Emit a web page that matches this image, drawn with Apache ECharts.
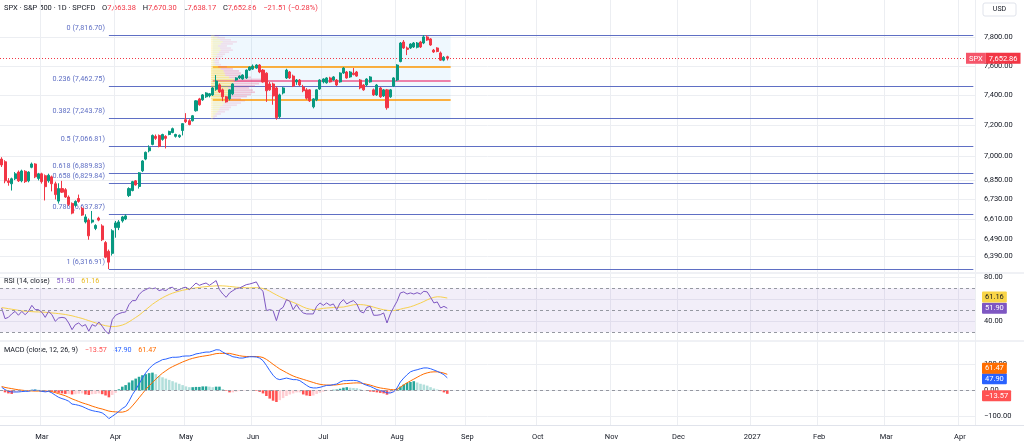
<!DOCTYPE html>
<html><head><meta charset="utf-8">
<script src="https://cdn.jsdelivr.net/npm/echarts@6/dist/echarts.min.js"></script>
<style>html,body{margin:0;padding:0;background:#fff}#c{width:1024px;height:446px}</style>
</head><body><div id="c"></div>
<script>
// ---------- DATA ----------
const firstDay = '2026-02-11';
const barCount = 291;
const holidays = ['2026-02-16','2026-04-03','2026-05-25','2026-06-19','2026-07-03','2026-09-07','2026-11-26','2026-12-25','2027-01-01','2027-03-26'];

// [open, high, low, close]
const ohlc = [
[6982,6994,6932,6945],[6965,6975,6830,6845],[6845,6862,6815,6835],[6827,6865,6785,6858],[6858,6900,6850,6889],
[6900,6910,6838,6845],[6845,6915,6836,6907],[6905,6912,6832,6840],[6845,6905,6836,6900],[6930,6960,6924,6951],
[6951,6956,6862,6870],[6860,6895,6848,6889],[6889,6896,6828,6840],[6877,6885,6724,6809],[6845,6890,6834,6880],
[6870,6878,6780,6827],[6827,6840,6730,6760],[6720,6830,6705,6797],[6797,6845,6770,6775],[6790,6800,6740,6745],
[6745,6755,6690,6700],[6706,6712,6640,6647],[6694,6725,6685,6718],[6736,6760,6710,6718],[6676,6685,6630,6635],
[6594,6640,6585,6624],[6605,6615,6488,6511],[6593,6660,6585,6605],[6555,6580,6545,6573],[6617,6625,6598,6605],
[6570,6580,6480,6488],[6471,6480,6380,6386],[6420,6430,6316.91,6357],[6408,6550,6395,6541],[6560,6600,6500,6588],
[6560,6605,6545,6594],[6600,6630,6590,6624],[6612,6640,6605,6630],[6754,6805,6745,6797],[6785,6845,6780,6840],
[6845,6850,6815,6820],[6810,6900,6797,6895],[6908,6975,6900,6970],[6982,7030,6975,7025],[7035,7070,7025,7055],
[7076,7140,7070,7134],[7128,7140,7105,7115],[7134,7140,7057,7063],[7108,7145,7100,7140],[7128,7135,7050,7115],
[7140,7165,7135,7160],[7153,7185,7148,7178],[7128,7145,7120,7140],[7125,7140,7118,7135],[7166,7215,7134,7211],
[7237,7280,7215,7224],[7230,7240,7200,7205],[7230,7268,7225,7263],[7296,7366,7290,7362],[7375,7382,7330,7336],
[7369,7408,7362,7402],[7389,7420,7382,7415],[7395,7415,7385,7410],[7402,7455,7395,7449],[7440,7537,7430,7496],
[7470,7480,7415,7422],[7436,7445,7360,7389],[7389,7395,7350,7355],[7376,7440,7365,7436],[7409,7480,7400,7476],
[7503,7522,7498,7517],[7517,7535,7510,7530],[7510,7542,7505,7537],[7517,7575,7510,7571],[7571,7596,7565,7592],
[7578,7610,7572,7599],[7585,7612,7580,7606],[7606,7612,7550,7558],[7571,7578,7485,7490],[7550,7556,7355,7430],
[7476,7490,7430,7436],[7476,7485,7336,7395],[7449,7460,7237,7250],[7256,7410,7245,7402],[7415,7455,7405,7449],
[7517,7580,7510,7571],[7558,7565,7510,7517],[7530,7540,7455,7462],[7490,7510,7470,7503],[7503,7510,7460,7469],
[7455,7470,7420,7430],[7436,7448,7370,7380],[7436,7440,7355,7362],[7322,7380,7312,7375],[7369,7440,7360,7436],
[7442,7508,7436,7503],[7490,7515,7480,7510],[7484,7522,7478,7517],[7517,7525,7485,7490],[7503,7530,7498,7524],
[7503,7510,7462,7469],[7490,7556,7484,7551],[7551,7592,7545,7585],[7558,7565,7512,7517],[7524,7565,7518,7558],
[7550,7585,7535,7540],[7558,7565,7525,7530],[7503,7510,7440,7449],[7469,7476,7430,7436],[7469,7515,7462,7510],
[7490,7530,7484,7524],[7436,7445,7395,7402],[7402,7476,7395,7469],[7449,7456,7382,7389],[7395,7442,7388,7436],
[7436,7442,7303,7316],[7389,7442,7382,7436],[7462,7522,7455,7517],[7503,7612,7496,7606],[7630,7767,7625,7760],
[7767,7781,7718,7725],[7725,7735,7675,7715],[7725,7758,7718,7753],[7732,7767,7725,7760],[7730,7767,7722,7760],
[7767,7775,7725,7732],[7760,7816.70,7752,7803],[7803,7815,7775,7781],[7789,7795,7740,7746],[7710,7718,7690,7697],
[7725,7730,7695,7700],[7690,7700,7635,7640],[7640,7668,7632,7660],[7663.38,7670.30,7638.17,7652.86]
];

const rsi = [
52,42.4,43.6,46.7,49,45.5,49,46,49,54.5,
50.6,50.6,48.2,43.6,49,46,40,43,43.6,43,
38.5,32.4,37,38.5,35.5,37,31,37,35.5,39.4,
35.5,31,28.5,41.5,45.5,47,48,48.5,55.2,58.8,
58.8,64.2,67.3,68.8,70.3,69.7,70.3,67.9,68.8,67.9,
70.3,71,67.9,68.8,70.3,71,68.8,71.8,74.8,72.7,
73.9,74.8,72.7,74.8,77,68.8,64.8,61.8,65.8,67.9,
69.7,70.3,71.8,73.3,73.9,74.8,75.8,70.3,67.3,49.7,
50.6,49.7,40.6,50.6,52.7,59.7,58.2,50.6,55.2,50.6,
47.6,46.7,46.7,46.7,53.6,56.7,54.5,56.7,54.5,55.8,
50.6,56.7,59.7,55.8,57.6,58.8,55.8,49,47.6,52.7,
53.6,45.5,45.5,46,47.6,38.5,46.7,52.7,58.2,65.8,
66.7,64.8,65.8,64.8,66,64.8,67.3,66.7,61.8,56.7,
57.6,52.1,53.6,51.90
];
const rsiMa = [
52.5,52,51.5,51,50.5,50,49.5,49.2,49,48.8,
48.6,48.5,48.4,48.2,47.9,47.6,47.3,47,46.6,46.2,
45.6,45,44.2,43.4,42.6,41.6,40.6,39.6,38.6,37.6,
36.8,36,35.5,35.2,35.3,35.8,36.6,37.8,39.5,41.5,
43.5,45.5,48,50.5,53,55.5,57.6,59.6,61.4,63,
64.4,65.6,66.6,67.4,68.2,68.8,69.4,69.9,70.4,70.8,
71.2,71.5,71.8,72,72.2,72.3,72.2,72,71.7,71.4,
71,70.8,70.6,70.5,70.4,70.5,70.6,70.4,69.8,68.8,
67.4,65.6,64,62.4,61,59.6,58.4,57.2,
56,54.5,53,51.8,51,50.6,50.8,51.3,51.8,52.1,52.3,52.5,
52.7,52.8,53,53.6,54.3,55,55.2,55.2,55,54.5,
53.8,52.9,52,51.2,50.5,50,49.7,49.8,50.3,51,
51.8,52.4,53.2,54.2,55.4,56.6,58,59.5,60.8,61.8,
62.3,62.2,61.7,61.16
];
const macd = [
11.5,2.6,-3.8,-6.4,-6.4,-6.4,-5,-4,-4,0,
0,-1,-4,-6,-4,-10,-19,-27,-32,-36,
-42,-53,-55,-58,-62,-68,-74,-78,-81,-83,
-87,-96,-109,-100,-91,-81,-70,-62,-42,-17,
2.6,24,47,67,83,96,105,111,118,120,
124,127,127,128,131,132,132,135,140,142,
145,147,147,151,156,155,147,140,135,129,
127,124,124,127,129,129,128,124,114,96,
76,58,45,41,44,47,44,41,41,37,
28,19,11.5,9,9,11.5,15,19,19,22,
24,32,37,37,38,38,37,32,24,19,
15,9,2.6,-1,-4,-10,-10,-6,9,32,
47,60,71,76,79,83,86,86,83,78,
73,67,60,47.90
];
const signal = [
14.5,11,8.5,6.5,4,2,0.5,-1,-2,-2.5,
-3,-3,-3.5,-3.8,-4,-5.5,-9,-13,-17,-21,
-27,-33,-38,-43,-48,-52,-56,-61,-65,-69,
-72,-76,-80,-82,-83,-84,-84,-81,-74,-60,
-45,-29,-13,3,17,30,43,55,66,75,
84,91,97,103,109,114,119,123,126,129,
131,133,135,138,141,142,142,142,142,139,
136,133,131,130,130,130,130,129,126,119,
110,100,91,82,75,68,61,55,50,46,
42,38,34,30,26,23,21,20,20,20,
21,23,25,26,27,28,28.5,28,26,23,
20,16,12,9,7,5,3,2,4,12,
21,29,36,43,50,57,63,67,70,71,
71,69,66,61.47
];
const hist = [
-3,-8,-12,-14,-8,-6,-4,-2,0,2,
3,2,0,-2,-2,-5,-8,-10,-12,-14,
-14,-16,-15,-13,-12,-16,-18,-15,-14,-12,
-15,-20,-27,-18,-10,4,14,20,30,38,
45,52,58,62,66,68,62,55,50,45,
40,35,30,25,20,15,12,12,13,13,
15,15,14,12,14,14,5,-2,-8,-8,
-5,-3,-2,-1,0,-1,-2,-6,-12,-22,
-32,-40,-45,-38,-30,-22,-16,-12,-8,-8,
-16,-20,-22,-20,-14,-9,-5,-2,0,2,
3,6,10,12,10,9,8,4,1,-2,
-5,-6,-8,-10,-12,-17,-12,-7,4,14,
22,28,32,35,30,25,22,18,12,7,
3,-3,-8,-13.57
];

const fibLevels = ['0','0.236','0.382','0.5','0.618','0.658','0.786','1'];
const fibPrices = [7816.70,7462.75,7243.78,7066.81,6889.83,6829.84,6637.87,6316.91];
const fibStartBar = 32;

const priceTicks = [7800,7600,7400,7200,7000,6850,6730,6610,6490,6390];
const rsiTicks = [80,60,40];
const macdTicks = [100,0,-100];

// fixed range volume profile (bars 63..133), rows bottom -> top
const profileFromBar = 63, profileToBar = 134;
const profileLow = 7237, profileHigh = 7817;
const profileUp = [0.8,1.1,1.9,2.7,3.4,3.8,4.9,5.7,6.4,5.7,6.8,7.6,8.3,7.9,7.2,8.3,9.1,9.8,9.5,7.6,6,5.7,5.3,4.1,3,1.9,1.5,1.5,1.9,2.3,2.7,3.4,4.1,3.8,3,4.1,4.9,3.8,2.7,1.5];
const profileDown = [0.9,1.4,2.3,3.2,4.2,4.6,6,6.9,7.9,6.9,8.3,9.2,10.2,9.7,8.8,10.2,11.1,12,11.5,9.2,7.4,6.9,6.5,5.1,3.7,2.3,1.9,1.9,2.3,2.7,3.2,4.2,5.1,4.6,3.7,5.1,6,4.6,3.2,1.9];
const valueAreaHigh = 7593, valueAreaLow = 7367, pocPrice = 7500;

const lastPrice = 7652.86;
const header = {o:'7,663.38', h:'7,670.30', l:'7,638.17', c:'7,652.86', chg:'−21.51 (−0.28%)'};

// ---------- BUILD ----------
function buildDates(){
  const out=[]; const d=new Date(Date.UTC(+firstDay.slice(0,4), +firstDay.slice(5,7)-1, +firstDay.slice(8,10)));
  while(out.length<barCount){
    const s=d.toISOString().slice(0,10), w=d.getUTCDay();
    if(w!==0&&w!==6&&holidays.indexOf(s)<0) out.push(s);
    d.setUTCDate(d.getUTCDate()+1);
  }
  return out;
}
const dates = buildDates();
const isMonthStart = dates.map((d,i)=> i>0 && d.slice(0,7)!==dates[i-1].slice(0,7));
const monthNames=['Jan','Feb','Mar','Apr','May','Jun','Jul','Aug','Sep','Oct','Nov','Dec'];
const monthLabel = d => d.slice(5,7)==='01' ? d.slice(0,4) : monthNames[+d.slice(5,7)-1];
const fmt = v => Number(v).toLocaleString('en-US',{minimumFractionDigits:2,maximumFractionDigits:2});
const fmtSigned = v => (v<0?'−':'')+fmt(Math.abs(v));

const candleData = ohlc.map(r=>[r[0],r[3],r[2],r[1]]);
const rowH = (profileHigh-profileLow)/profileUp.length;
const profileData = profileUp.map((u,k)=>{
  const lo=profileLow+k*rowH, hi=lo+rowH;
  const inVA = (lo+hi)/2>=valueAreaLow && (lo+hi)/2<=valueAreaHigh ? 1:0;
  return [lo,hi,u,profileDown[k],inVA];
});
const histData = hist.map((h,i)=>{
  const p = i>0?hist[i-1]:h;
  const c = h>=0 ? (h>=p?'#26A69A':'#B2DFDB') : (h<p?'#FF5252':'#FFCDD2');
  return {value:h, itemStyle:{color:c}};
});

const FONT = 'Roboto, "Liberation Sans", sans-serif';
const TXT = '#131722';
const GRID_COLOR = '#eceef2';
const FIB = '#5f6fc4';
const RIGHT = 49;
const mainMin = 6300.2, mainMax = 8069.7;

const catAxis = (gi, showLabel) => ({
  type:'category', gridIndex:gi, data:dates, boundaryGap:true,
  axisLine:{show:false}, axisTick:{show:false},
  axisLabel:{show:showLabel, interval:(i)=>isMonthStart[i], formatter:monthLabel, color:TXT, fontSize:7.5, fontFamily:FONT, margin:8},
  splitLine:{show:true, interval:(i)=>isMonthStart[i], lineStyle:{color:GRID_COLOR,width:1}}
});

const tag = (value, bg, fg, offY) => ({
  yAxis:value, lineStyle:{color:'rgba(0,0,0,0)',width:0},
  label:{show:true, position:'end', distance:7, offset:[0,offY||0], formatter:fmtSigned(value), backgroundColor:bg, color:fg,
    fontSize:7.5, fontFamily:FONT, padding:[2,3,1,3], borderRadius:1}
});

const fibLines = fibPrices.map((p,k)=>[
  {coord:[dates[fibStartBar],p], label:{show:true, position:'start', distance:4, offset:[0,-7], formatter:`${fibLevels[k]} (${fmt(p)})`, color:FIB, fontSize:7.2, fontFamily:FONT}},
  {coord:[dates[dates.length-1],p]}
]);

const option = {
  animation:false,
  backgroundColor:'#ffffff',
  textStyle:{fontFamily:FONT},
  grid:[
    {left:0,right:RIGHT,top:0,height:272},
    {left:0,right:RIGHT,top:274,height:67},
    {left:0,right:RIGHT,top:341,height:84},
    {left:211,width:238,top:0,height:272}
  ],
  xAxis:[catAxis(0,false),catAxis(1,false),catAxis(2,true),
    {type:'value',gridIndex:3,min:0,max:100,show:false}],
  yAxis:[
    {type:'log',logBase:10,gridIndex:0,position:'right',min:mainMin,max:mainMax,
      axisLine:{show:false},axisTick:{show:false,customValues:priceTicks},
      axisLabel:{customValues:priceTicks,formatter:fmt,color:TXT,fontSize:7.5,fontFamily:FONT,margin:9},
      splitLine:{show:true,lineStyle:{color:GRID_COLOR}}},
    {type:'value',gridIndex:1,position:'right',min:22.1,max:83.0,
      axisLine:{show:false},axisTick:{show:false,customValues:rsiTicks},
      axisLabel:{customValues:rsiTicks,formatter:fmt,color:TXT,fontSize:7.5,fontFamily:FONT,margin:9},
      splitLine:{show:true,lineStyle:{color:GRID_COLOR}}},
    {type:'value',gridIndex:2,position:'right',min:-133.5,max:189.6,
      axisLine:{show:false},axisTick:{show:false,customValues:macdTicks},
      axisLabel:{customValues:macdTicks,formatter:fmtSigned,color:TXT,fontSize:7.5,fontFamily:FONT,margin:9},
      splitLine:{show:true,lineStyle:{color:GRID_COLOR}}},
    {type:'log',logBase:10,gridIndex:3,min:mainMin,max:mainMax,show:false}
  ],
  series:[
    {type:'candlestick',xAxisIndex:0,yAxisIndex:0,data:candleData,barWidth:'76%',z:3,
      itemStyle:{color:'#089981',color0:'#F23645',borderColor:'#089981',borderColor0:'#F23645',borderWidth:1},
      markArea:{silent:true,z:1,itemStyle:{color:'rgba(33,150,243,0.07)'},
        data:[[{coord:[dates[profileFromBar],profileHigh]},{coord:[dates[profileToBar],profileLow]}]]},
      markLine:{silent:true,symbol:['none','none'],z:2,
        lineStyle:{color:FIB,width:1.2,type:'solid'},
        label:{show:false},
        data:[
          ...fibLines,
          [{coord:[dates[profileFromBar],valueAreaHigh],lineStyle:{color:'#FF9800',width:1.5}},{coord:[dates[profileToBar],valueAreaHigh]}],
          [{coord:[dates[profileFromBar],valueAreaLow],lineStyle:{color:'#FF9800',width:1.5}},{coord:[dates[profileToBar],valueAreaLow]}],
          [{coord:[dates[profileFromBar],pocPrice],lineStyle:{color:'rgba(233,30,99,0.55)',width:2}},{coord:[dates[profileToBar],pocPrice]}],
          {yAxis:lastPrice,lineStyle:{color:'#F23645',type:[1,2],width:1},
            label:{show:true,position:'end',distance:5,offset:[-14,0],
              formatter:'{a|SPX}{b|'+fmt(lastPrice)+'}',
              rich:{a:{color:'#fff',backgroundColor:'#F5566A',fontSize:7.5,fontFamily:FONT,padding:[2,3,1,3]},
                    b:{color:'#fff',backgroundColor:'#F23645',fontSize:7.5,fontFamily:FONT,padding:[2,3,1,3]}}}}
        ]}
    },
    {type:'custom',xAxisIndex:3,yAxisIndex:3,data:profileData,z:2,silent:true,clip:false,
      encode:{x:[2,3],y:[0,1]},
      renderItem:(params,api)=>{
        const lo=api.value(0),hi=api.value(1),up=api.value(2),dn=api.value(3),va=api.value(4);
        const a=api.coord([0,hi]), b=api.coord([up,lo]), c=api.coord([up+dn,lo]);
        const h=Math.max(b[1]-a[1]-0.5,0.6);
        return {type:'group',children:[
          {type:'rect',shape:{x:a[0],y:a[1],width:b[0]-a[0],height:h},style:{fill:va?'rgba(251,214,60,0.5)':'rgba(251,224,90,0.3)'}},
          {type:'rect',shape:{x:b[0],y:a[1],width:c[0]-b[0],height:h},style:{fill:va?'rgba(236,64,122,0.28)':'rgba(236,64,122,0.14)'}}
        ]};
      }},
    {type:'line',xAxisIndex:1,yAxisIndex:1,data:rsi,showSymbol:false,z:4,
      lineStyle:{color:'#7E57C2',width:1},
      markArea:{silent:true,itemStyle:{color:'rgba(126,87,194,0.1)'},data:[[{yAxis:70},{yAxis:30}]]},
      markLine:{silent:true,symbol:['none','none'],z:5,
        lineStyle:{color:'#9598A1',type:[3,3],width:1},label:{show:false},
        data:[{yAxis:70},{yAxis:50},{yAxis:30},tag(51.90,'#7E57C2','#fff',0)]}},
    {type:'line',xAxisIndex:1,yAxisIndex:1,data:rsiMa,showSymbol:false,z:3,
      lineStyle:{color:'#F7D04D',width:1},
      markLine:{silent:true,symbol:['none','none'],z:6,data:[tag(61.16,'#F9D548','#131722',-1)]}},
    {type:'bar',xAxisIndex:2,yAxisIndex:2,data:histData,barWidth:'76%',z:2,
      markLine:{silent:true,symbol:['none','none'],z:6,
        lineStyle:{color:'#9598A1',type:[3,3],width:1},label:{show:false},
        data:[{yAxis:0},tag(-13.57,'#FF5252','#fff',2)]}},
    {type:'line',xAxisIndex:2,yAxisIndex:2,data:macd,showSymbol:false,z:4,
      lineStyle:{color:'#2962FF',width:1},
      markLine:{silent:true,symbol:['none','none'],z:6,data:[tag(47.90,'#2962FF','#fff',1)]}},
    {type:'line',xAxisIndex:2,yAxisIndex:2,data:signal,showSymbol:false,z:3,
      lineStyle:{color:'#FF6D00',width:1},
      markLine:{silent:true,symbol:['none','none'],z:6,data:[tag(61.47,'#FF6D00','#fff',-6)]}}
  ],
  graphic:[
    {type:'line',shape:{x1:0,y1:273,x2:1024,y2:273},style:{stroke:'#e0e3eb',lineWidth:1},silent:true},
    {type:'line',shape:{x1:0,y1:341,x2:1024,y2:341},style:{stroke:'#e0e3eb',lineWidth:1},silent:true},
    {type:'line',shape:{x1:0,y1:425.5,x2:1024,y2:425.5},style:{stroke:'#e0e3eb',lineWidth:1},silent:true},
    {type:'text',x:4,y:8,silent:true,style:{
      text:'{t|SPX · S&P 500 · 1D · SPCFD}  {k|O}{v|'+header.o+'}  {k|H}{v|'+header.h+'}  {k|L}{v|'+header.l+'}  {k|C}{v|'+header.c+'}  {v|'+header.chg+'}',
      verticalAlign:'middle',
      rich:{t:{fill:TXT,fontSize:7.5,fontFamily:FONT},k:{fill:TXT,fontSize:7.5,fontFamily:FONT},v:{fill:'#F23645',fontSize:7.5,fontFamily:FONT}}}},
    {type:'text',x:4,y:281,silent:true,style:{
      text:'{t|RSI (14, close)}  {p|51.90}  {y|61.16}',verticalAlign:'middle',
      rich:{t:{fill:TXT,fontSize:7.2,fontFamily:FONT},p:{fill:'#7E57C2',fontSize:7.2,fontFamily:FONT},y:{fill:'#E8B923',fontSize:7.2,fontFamily:FONT}}}},
    {type:'text',x:4,y:350,silent:true,style:{
      text:'{t|MACD (close, 12, 26, 9)}  {r|−13.57}  {b|47.90}  {o|61.47}',verticalAlign:'middle',
      rich:{t:{fill:TXT,fontSize:7.2,fontFamily:FONT},r:{fill:'#FF5252',fontSize:7.2,fontFamily:FONT},b:{fill:'#2962FF',fontSize:7.2,fontFamily:FONT},o:{fill:'#FF6D00',fontSize:7.2,fontFamily:FONT}}}},
    {type:'rect',shape:{x:983,y:3,width:33,height:13,r:2},style:{fill:'#fff',stroke:'#e0e3eb',lineWidth:1},silent:true},
    {type:'text',x:999.5,y:9.5,silent:true,style:{text:'USD',fill:TXT,fontSize:7,fontFamily:FONT,align:'center',verticalAlign:'middle'}}
  ]
};
const chart = echarts.init(document.getElementById('c'));
chart.setOption(option);
</script></body></html>
